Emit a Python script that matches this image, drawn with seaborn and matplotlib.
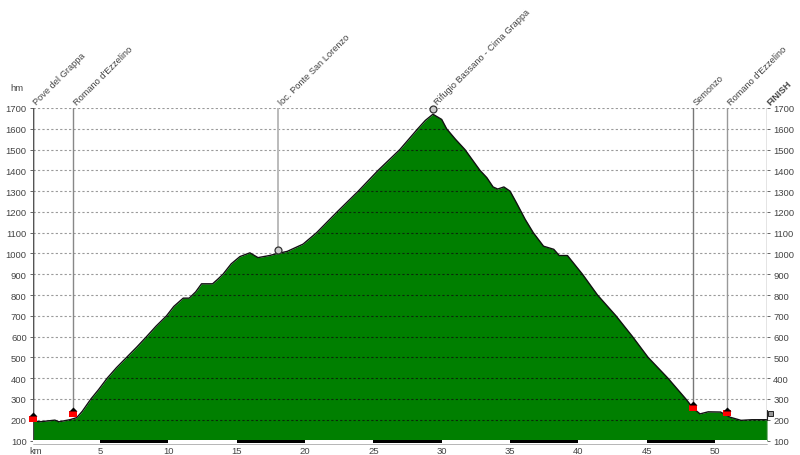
import matplotlib
matplotlib.use("Agg")
import matplotlib.pyplot as plt
from matplotlib.transforms import offset_copy
import seaborn as sns
import pandas as pd

km = [0.1,0.6,1.7,2.0,2.8,3.3,3.7,4.34,4.9,5.53,6.2,6.95,7.7,8.41,9.1,9.87,10.4,11.09,11.53,12.0,12.43,13.24,13.6,14.0,14.6,15.24,15.97,16.56,17.4,18.0,18.7,19.86,20.85,22.35,23.9,25.35,26.94,28.25,28.8,29.36,30.0,30.36,31.0,31.7,32.8,33.3,33.76,34.1,34.55,35.0,35.5,36.1,36.7,37.45,38.2,38.6,39.2,40.3,41.4,42.75,43.96,45.1,46.55,47.86,48.4,48.9,49.5,50.4,51.1,51.9,52.7,53.8]
elev = [195,190,198,190,200,210,240,300,345,400,450,500,550,600,650,700,745,785,785,815,854,854,875,900,950,985,1003,980,990,1000,1010,1045,1100,1200,1300,1400,1500,1600,1640,1670,1645,1600,1550,1500,1400,1365,1320,1310,1320,1300,1240,1165,1100,1035,1020,990,990,900,800,700,600,500,400,300,255,228,238,237,212,197,200,200]
y_ticks = list(range(100,1800,100))
x_ticks = [5,10,15,20,25,30,35,40,45,50]
town_names = ["Pove del Grappa","Romano d'Ezzelino","Semonzo","Romano d'Ezzelino"]
town_km = [0.1,3.05,48.4,50.85]
town_elev = [203,229,257,230]
town_line = ["#555555","#888888","#777777","#999999"]
pass_names = ["loc. Ponte San Lorenzo","Rifugio Bassano - Cima Grappa"]
pass_km = [18.0,29.4]
pass_elev = [1015,1695]
finish_name = "FINISH"
finish_km = 53.8
finish_elev = 232

sns.set_theme(style="white")
plt.rcParams['font.family'] = ['Liberation Sans','DejaVu Sans']
W,H = 800,456
fig = plt.figure(figsize=(W/100,H/100),dpi=100,facecolor="white")
L,R,T,B = 33,767,109,441.5
ax = fig.add_axes([L/W,1-B/H,(R-L)/W,(B-T)/H])
x0,x1 = 0.1,53.8
ax.set_xlim(x0,x1); ax.set_ylim(100,1700)
ax.set_facecolor("white")
df = pd.DataFrame({"km":km,"elev":elev})
poly = ax.fill_between(df.km,df.elev,100,color="#007f00",lw=0,zorder=1)
sns.lineplot(data=df,x="km",y="elev",ax=ax,color="#111111",lw=1.0,zorder=3)
clip = poly.get_paths()[0]
for v in y_ticks:
    ax.axhline(v,color="#9a9a9a",lw=0.8,ls=(0,(2,2)),zorder=0.5)
    g = ax.axhline(v,color="#0a2a0a",lw=0.8,ls=(0,(2,2)),zorder=2)
    g.set_clip_path(clip,transform=ax.transData)
for s in ["top","right","left","bottom"]:
    ax.spines[s].set_visible(False)
ax.plot([x0,x0],[100,1700],color="#444444",lw=1,zorder=4)
ax.plot([x1,x1],[100,1700],color="#777777",lw=1,zorder=4)
ax.set_xlabel(""); ax.set_ylabel("")
txt = "#444444"
ax.set_yticks(y_ticks)
ax.tick_params(axis="y",left=True,right=True,labelleft=True,labelright=True,length=2.5,width=0.7,color="#666666",labelsize=6.8,labelcolor=txt,pad=2)
ax.set_xticks(x_ticks)
ax.tick_params(axis="x",bottom=False,length=0,labelsize=6.8,labelcolor=txt,pad=4)
tr = ax.get_xaxis_transform()
strip = [x0]+x_ticks+[x1]
for i,(a,b) in enumerate(zip(strip[:-1],strip[1:])):
    ax.fill_between([a,b],-0.009,0,transform=tr,color="black" if i%2==1 else "white",lw=0,clip_on=False,zorder=5)
ax.plot([x0,x1],[-0.0105,-0.0105],transform=tr,color="#999999",lw=0.5,clip_on=False,zorder=5)
ax.text(0.3,-0.0175,"km",transform=tr,ha="center",va="top",fontsize=6.8,color=txt)
ax.text(-0.022,1.063,"hm",transform=ax.transAxes,ha="center",va="center",fontsize=6.8,color=txt)

lab = dict(rotation=45,rotation_mode="anchor",ha="left",va="center",fontsize=6.7,color=txt,annotation_clip=False)
up_roof = offset_copy(ax.transData,fig=fig,x=0,y=4.75,units="dots")
roof = [(-1,-0.5),(1,-0.5),(0,0.5)]
rect = [(-1,-0.65),(1,-0.65),(1,0.65),(-1,0.65)]
for n,k,e,c in zip(town_names,town_km,town_elev,town_line):
    ax.plot([k,k],[e,1700],color=c,lw=1.0,zorder=4)
    ax.plot([k],[e],marker=rect,ms=5.76,color="red",mew=0,zorder=6,clip_on=False)
    ax.plot([k],[e],marker=roof,ms=5.76,color="black",mew=0,zorder=6,clip_on=False,transform=up_roof)
    ax.annotate(n,(k,1700),xytext=(1.5,3.5),textcoords="offset points",**lab)
for n,k,e in zip(pass_names,pass_km,pass_elev):
    ax.plot([k,k],[e,1700],color="#bbbbbb",lw=1.4,zorder=4)
    ax.plot([k],[e],marker="o",ms=5,mfc="#cccccc",mec="#333333",mew=0.9,zorder=6,clip_on=False)
    ax.annotate(n,(k,1700),xytext=(1.5,3.5),textcoords="offset points",**lab)
ax.plot([finish_km,finish_km],[200,finish_elev+15],color="#222222",lw=0.8,zorder=6,clip_on=False)
ax.plot([finish_km+0.2],[finish_elev],marker="s",ms=3.6,mfc="#999999",mec="#222222",mew=0.7,zorder=6,clip_on=False)
ax.annotate(finish_name,(finish_km,1700),xytext=(1.5,3.5),textcoords="offset points",fontweight="bold",**lab)
fig.savefig("out.png",dpi=100,facecolor="white")
